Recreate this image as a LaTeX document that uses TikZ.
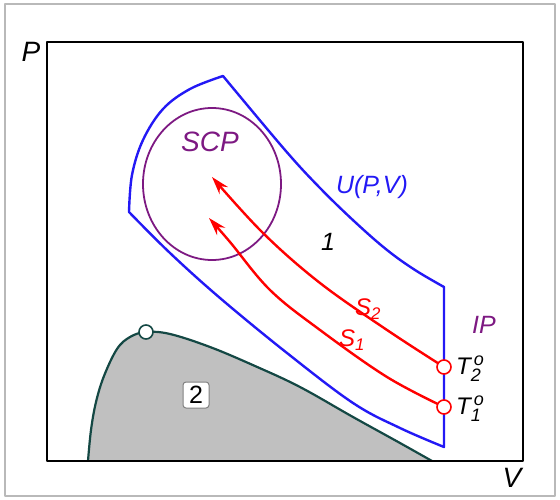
\documentclass[tikz,border=0pt]{standalone}
\usepackage{fontspec}
\setmainfont{Liberation Sans}
\usetikzlibrary{arrows.meta,shapes.geometric}
\definecolor{ublue}{RGB}{35,25,245}
\definecolor{scpc}{RGB}{125,25,130}
\definecolor{bintc}{RGB}{20,72,68}
\definecolor{fillg}{RGB}{192,192,192}
\newcommand\Tlab[1]{T\makebox[0pt][l]{\raisebox{-7pt}{\fontsize{18}{18}\selectfont #1}}\raisebox{9pt}{\fontsize{18}{18}\selectfont\,o}}
\begin{document}
\begin{tikzpicture}[x=1pt,y=-1pt,line join=round,
  biglab/.style={font=\fontsize{28}{30}\selectfont\itshape, inner sep=0},
  midlab/.style={font=\fontsize{25}{27}\selectfont\itshape, inner sep=0},
  slab/.style={font=\fontsize{24}{26}\selectfont\itshape, inner sep=0, text=red},
  tlab/.style={font=\fontsize{24}{26}\selectfont\itshape, inner sep=0, anchor=west},
  circ/.style={circle, draw=red, fill=white, line width=1.6pt, minimum size=14pt, inner sep=0},
  pathline/.style={red, line width=2.4pt, -{Stealth[length=18pt,width=11pt,inset=6pt]}},
  numbox/.style={draw=gray, fill=white, rounded corners=3pt, minimum size=26pt, inner sep=0, line width=1pt, font=\fontsize{25}{27}\selectfont}]
\useasboundingbox (0,0) rectangle (560,500);
\draw[gray!55, line width=1.5pt] (5,4) rectangle (555,496);
% binodal region
\fill[fillg] plot[smooth, tension=0.6] coordinates {(88,461) (91,430) (96,402) (104,376) (117,349) (130,337) (146,332) (170,334) (210,347) (255,366) (300,387) (353,417) (400,443) (432,461)} -- cycle;
\draw[bintc, line width=2.2pt] plot[smooth, tension=0.6] coordinates {(88,461) (91,430) (96,402) (104,376) (117,349) (130,337) (146,332) (170,334) (210,347) (255,366) (300,387) (353,417) (400,443) (432,461)};
\node[circle, draw=bintc, fill=white, line width=1.6pt, minimum size=14pt, inner sep=0] (cp) at (146,332) {};
% axes frame
\draw[line width=2pt] (47,42) rectangle (523,461);
\node[biglab] (P) at (31,52) {P};
\node[biglab] (V) at (512,478) {V};
% region U(P,V)
\draw[ublue, line width=2.4pt] plot[smooth, tension=0.6] coordinates {(223,76) (285,150) (320,188) (355,222) (387,250) (415,270) (444,287)} -- (444,447) -- plot[smooth, tension=0.6] coordinates {(444,447) (400,428) (353,403) (287,353) (220,298) (170,253) (129,212)} -- plot[smooth, tension=0.6] coordinates {(129,212) (132,175) (143,140) (163,109) (190,89) (223,76)} -- cycle;
\node[midlab, text=ublue] (U) at (372,187) {U(P,V)};
\node[midlab] (one) at (328,242) {1};
% SCP
\node[ellipse, draw=scpc, line width=1.8pt, minimum width=138pt, minimum height=152pt, inner sep=0] (scp) at (212,184) {};
\node[biglab, text=scpc] (scplab) at (210,142) {SCP};
\node[midlab, text=scpc] (IP) at (484,325) {IP};
% paths
\coordinate (p2) at (444,367);
\coordinate (p1) at (444,407);
\coordinate (tip2) at (212,177);
\coordinate (tip1) at (209,218);
\draw[pathline] plot[smooth, tension=0.6] coordinates {(p2) (387,330) (320,283) (263,233) (tip2)};
\draw[pathline] plot[smooth, tension=0.6] coordinates {(p1) (387,377) (320,330) (270,290) (230,242) (tip1)};
\node[circ] (t2) at (p2) {};
\node[circ] (t1) at (p1) {};
\node[tlab] (t2lab) at (456,369) {\Tlab{2}};
\node[tlab] (t1lab) at (456,409) {\Tlab{1}};
\node[slab] (s2) at (368,309) {S\textsubscript{2}};
\node[slab] (s1) at (352,340) {S\textsubscript{1}};
\node[numbox] (two) at (196,395) {2};
\end{tikzpicture}
\end{document}
